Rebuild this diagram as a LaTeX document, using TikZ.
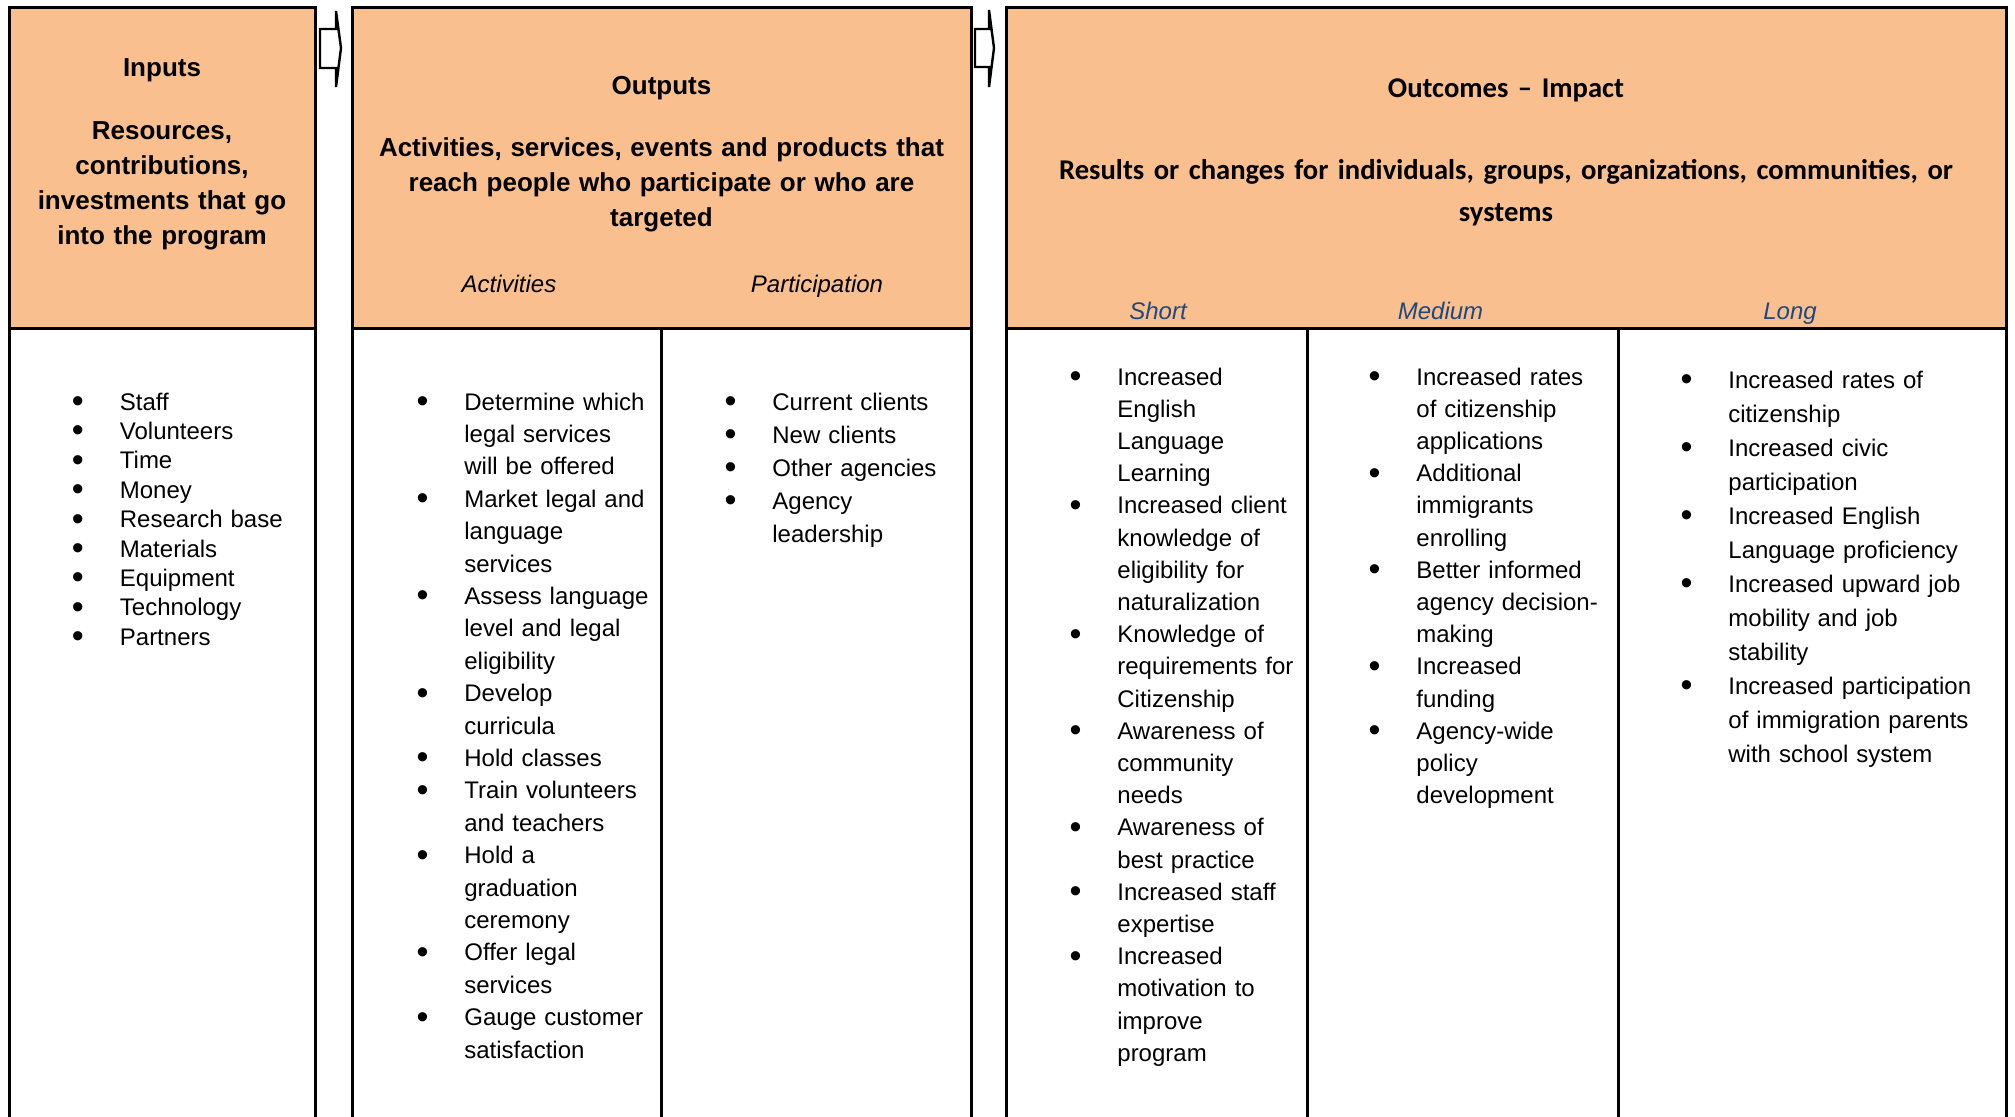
\documentclass[tikz,border=0pt]{standalone}
\usepackage{fontspec}
\setmainfont{Liberation Sans}
\newfontfamily\calibri{Carlito}
\usetikzlibrary{positioning}
\definecolor{lmpeach}{RGB}{250,191,143}
\definecolor{lmblue}{RGB}{31,73,125}
\newcommand{\itm}{\leavevmode\llap{\smash{\raisebox{-1.2pt}{\fontsize{17}{17}\selectfont\textbullet}}\hspace{18pt}}}

\begin{document}
\begin{tikzpicture}[x=0.5pt, y=-0.5pt,
    hdbox/.style={draw, line width=1.5pt, fill=lmpeach, minimum height=160.25pt, inner sep=0},
    bdbox/.style={draw, line width=1.5pt, minimum height=401pt, inner sep=0},
    divider/.style={line width=1.5pt},
    hdtext/.style={anchor=base, align=center, text width=300pt, inner sep=0, font=\bfseries\fontsize{13}{17.5}\selectfont},
    subhd/.style={anchor=base, inner sep=0, font=\itshape\fontsize{12}{14}\selectfont},
    itemlist/.style={anchor=base west, align=left, text width=140pt, inner sep=0},
    blockarrow/.style={draw, line width=1.2pt, fill=white, line join=miter}
  ]
  \useasboundingbox (0,0) rectangle (2015,1116);
  \clip (0,0) rectangle (2015,1116);

  % boxes
  \node[hdbox, minimum width=153pt] (inhead) at (162,167.75) {};
  \node[hdbox, minimum width=309.5pt] (outhead) at (661.5,167.75) {};
  \node[hdbox, minimum width=500pt] (ochead) at (1506,167.75) {};
  \node[bdbox, minimum width=153pt] (inbody) at (162,729) {};
  \node[bdbox, minimum width=309.5pt] (outbody) at (661.5,729) {};
  \node[bdbox, minimum width=500pt] (ocbody) at (1506,729) {};
  \draw[divider] (outhead.south) -- (outbody.south);
  \draw[divider] (1307,328) -- (1307,1130);
  \draw[divider] (1618,328) -- (1618,1130);

  % arrows between the columns
  \draw[blockarrow] (320,29) -- (336,29) -- (336,11) -- (341,48) -- (336,87) -- (336,68) -- (320,68) -- cycle;
  \draw[blockarrow] (975,29) -- (989,29) -- (989,10) -- (994,48) -- (989,87) -- (989,67) -- (975,67) -- cycle;

  % headings
  \node[hdtext] (intitle) at (162,76) {Inputs\\[14pt]Resources,\\contributions,\\investments that go\\into the program};
  \node[hdtext] (outtitle) at (661.5,94) {Outputs\\[13.5pt]Activities, services, events and products that\\reach people who participate or who are\\targeted};
  \node[hdtext, text width=480pt, font=\calibri\bfseries\fontsize{14.3}{21.3}\selectfont] (octitle) at (1506,97) {Outcomes – Impact\\[19.7pt]Results or changes for individuals, groups, organizations, communities, or\\systems};
  \node[subhd] (actlbl) at (509,292) {Activities};
  \node[subhd] (partlbl) at (817,292) {Participation};
  \node[subhd, text=lmblue] (shortlbl) at (1158,319) {Short};
  \node[subhd, text=lmblue] (medlbl) at (1440.5,319) {Medium};
  \node[subhd, text=lmblue] (longlbl) at (1790,319) {Long};

  % lists
  \node[itemlist, font=\fontsize{12}{14.7}\selectfont] (inlist) at (119.5,410) {\itm Staff\\\itm Volunteers\\\itm Time\\\itm Money\\\itm Research base\\\itm Materials\\\itm Equipment\\\itm Technology\\\itm Partners};
  \node[itemlist, font=\fontsize{12}{16.2}\selectfont] (actlist) at (464,410) {\itm Determine which\\legal services\\will be offered\\\itm Market legal and\\language\\services\\\itm Assess language\\level and legal\\eligibility\\\itm Develop\\curricula\\\itm Hold classes\\\itm Train volunteers\\and teachers\\\itm Hold a\\graduation\\ceremony\\\itm Offer legal\\services\\\itm Gauge customer\\satisfaction};
  \node[itemlist, font=\fontsize{12}{16.5}\selectfont] (partlist) at (772,410) {\itm Current clients\\\itm New clients\\\itm Other agencies\\\itm Agency\\leadership};
  \node[itemlist, font=\fontsize{12}{16.1}\selectfont] (shortlist) at (1117,385) {\itm Increased\\English\\Language\\Learning\\\itm Increased client\\knowledge of\\eligibility for\\naturalization\\\itm Knowledge of\\requirements for\\Citizenship\\\itm Awareness of\\community\\needs\\\itm Awareness of\\best practice\\\itm Increased staff\\expertise\\\itm Increased\\motivation to\\improve\\program};
  \node[itemlist, font=\fontsize{12}{16.1}\selectfont] (medlist) at (1416,385) {\itm Increased rates\\of citizenship\\applications\\\itm Additional\\immigrants\\enrolling\\\itm Better informed\\agency decision-\\making\\\itm Increased\\funding\\\itm Agency-wide\\policy\\development};
  \node[itemlist, font=\fontsize{12}{17}\selectfont] (longlist) at (1728,388) {\itm Increased rates of\\citizenship\\\itm Increased civic\\participation\\\itm Increased English\\Language proficiency\\\itm Increased upward job\\mobility and job\\stability\\\itm Increased participation\\of immigration parents\\with school system};
\end{tikzpicture}
\end{document}
